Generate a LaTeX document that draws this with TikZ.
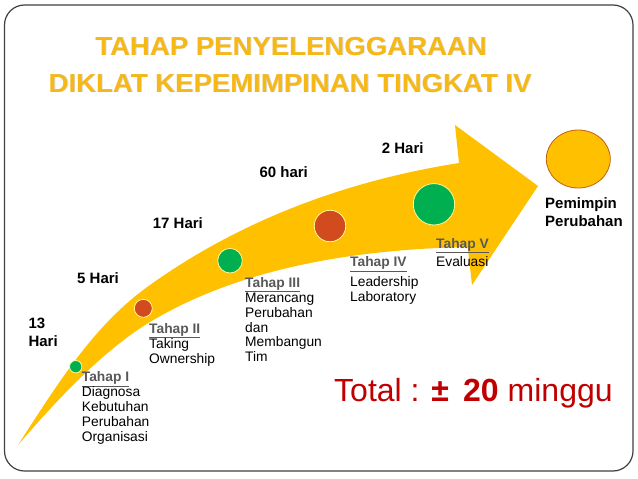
\documentclass[tikz,border=0pt]{standalone}
\usepackage{fontspec}
\setmainfont{Liberation Sans}
\usepackage{graphicx}
\usetikzlibrary{shapes.geometric}
\definecolor{gold}{HTML}{FFC000}
\definecolor{titlegold}{HTML}{F5B816}
\definecolor{tgreen}{HTML}{00B050}
\definecolor{tred}{HTML}{D24B1E}
\definecolor{tgray}{HTML}{595959}
\definecolor{tdark}{HTML}{C00000}
\definecolor{ringbrown}{HTML}{C0600F}
\newcommand{\mystack}[1]{\begin{tabular}[t]{@{}l@{}}#1\end{tabular}}
\newcommand{\tahap}[1]{\textcolor{tgray}{\bfseries\underline{#1}}}
\begin{document}
\begin{tikzpicture}[x=1pt,y=-1pt,
  lbl/.style={inner sep=0pt,anchor=base west,font=\fontsize{15}{18}\selectfont\bfseries},
  body/.style={inner sep=0pt,anchor=base west,font=\fontsize{13.8}{14.8}\selectfont},
  titletext/.style={inner sep=0pt,anchor=base,font=\fontsize{26}{30}\selectfont\bfseries},
  dot/.style={circle,draw=white!60!yellow,line width=0.8pt,inner sep=0pt}]
\useasboundingbox (0,0) rectangle (638,479);
\fill[white] (0,0) rectangle (638,479);
% frame
\draw[line width=1.2pt,color=black!75,rounded corners=20pt] (4.5,5) rectangle (633,471);
% title
\node[titletext,text=black!15] (t1s) at (291.9,55.9) {\scalebox{1.06}[1]{TAHAP PENYELENGGARAAN}};
\node[titletext,text=black!15] (t2s) at (290.9,92.9) {\scalebox{1.06}[1]{DIKLAT KEPEMIMPINAN TINGKAT IV}};
\node[titletext,text=titlegold] (t1) at (291,55) {\scalebox{1.06}[1]{TAHAP PENYELENGGARAAN}};
\node[titletext,text=titlegold] (t2) at (290,92) {\scalebox{1.06}[1]{DIKLAT KEPEMIMPINAN TINGKAT IV}};
% arrow
\fill[gold] (18,445) .. controls (60,380) and (95,324) .. (150,285)
  .. controls (220,235) and (320,185) .. (459,163)
  -- (455,125) -- (538,186) -- (472,285) -- (467.7,247)
  .. controls (320,250) and (220,280) .. (150,322)
  .. controls (100,352) and (50,408) .. (18,445) -- cycle;
% stage dots
\node[dot,fill=tgreen,minimum size=12.4pt] (c1) at (75.7,366.7) {};
\node[dot,fill=tred,minimum size=18pt] (c2) at (143.3,308.3) {};
\node[dot,fill=tgreen,minimum size=24.6pt] (c3) at (230,260.7) {};
\node[dot,fill=tred,minimum size=31.5pt] (c4) at (330,226) {};
\node[dot,fill=tgreen,minimum size=41.4pt] (c5) at (434,204.3) {};
\node[ellipse,draw=ringbrown,line width=0.8pt,fill=gold,minimum width=64pt,minimum height=58pt,inner sep=0pt] (goal) at (578.3,159) {};
% durations
\node[lbl] (d1) at (28.3,328.3) {\fontsize{15}{18.4}\selectfont\mystack{13\\Hari}};
\node[lbl] (d2) at (77,283) {5 Hari};
\node[lbl] (d3) at (152.7,228.3) {17 Hari};
\node[lbl] (d4) at (259.3,177.3) {60 hari};
\node[lbl] (d5) at (381.7,153.3) {2 Hari};
\node[lbl] (goaltext) at (545,208.3) {\fontsize{15}{17.8}\selectfont\mystack{Pemimpin\\Perubahan}};
% stage texts
\node[body] (s1) at (81.7,381.7) {\mystack{\tahap{Tahap I}\\Diagnosa\\Kebutuhan\\Perubahan\\Organisasi}};
\node[body] (s2) at (149,333.3) {\mystack{\tahap{Tahap II}\\Taking\\Ownership}};
\node[body] (s3) at (245,287.3) {\mystack{\tahap{Tahap III}\\Merancang\\Perubahan\\dan\\Membangun\\Tim}};
\node[body] (s4) at (350,266.5) {\mystack{\tahap{Tahap IV}\\[5.5pt]Leadership\\Laboratory}};
\node[body] (s5) at (436,248) {\mystack{\tahap{Tahap V}\\[3.5pt]Evaluasi}};
% total
\node[inner sep=0pt,anchor=base west,text=tdark,font=\fontsize{32}{36}\selectfont] (total) at (334,401) {Total : \textbf{±}\, \textbf{20} minggu};
\end{tikzpicture}
\end{document}
